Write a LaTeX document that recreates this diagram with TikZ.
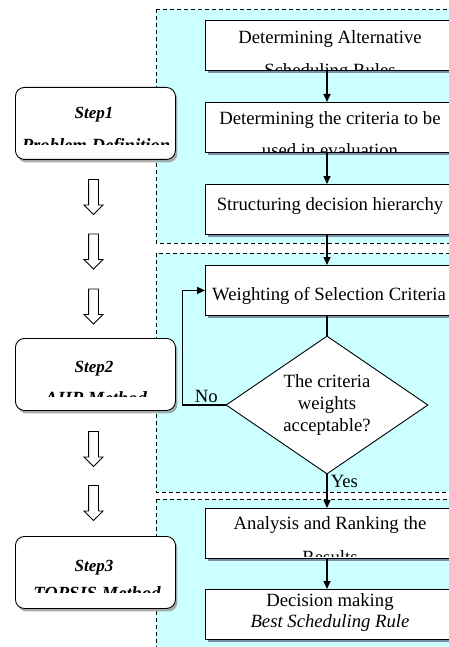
\documentclass[tikz,border=0pt]{standalone}
\usepackage{fontspec}
\setmainfont{Liberation Serif}
\usetikzlibrary{shapes.geometric,shapes.arrows,shadows,arrows.meta}
\definecolor{panelcyan}{RGB}{204,255,255}
\definecolor{shadowblue}{RGB}{112,132,158}
\definecolor{shadowgray}{RGB}{150,150,150}

\tikzset{
  panel/.style={draw, dash pattern=on 4pt off 3pt, line width=0.8pt, fill=panelcyan},
  procbox/.style={draw, fill=white, anchor=north west, minimum width=250pt, minimum height=50pt,
    line width=0.9pt, drop shadow={shadow xshift=3pt, shadow yshift=-3pt, fill=shadowblue, opacity=0.9}},
  stepbox/.style={draw, fill=white, rounded corners=9pt, anchor=north west, minimum width=160pt,
    minimum height=72pt, line width=0.9pt, drop shadow={shadow xshift=2pt, shadow yshift=-3pt, fill=shadowgray, opacity=0.8}},
  decision/.style={diamond, draw, fill=white, aspect=1.46, minimum width=202pt, minimum height=138pt,
    inner sep=0pt, align=center, line width=0.9pt, font=\fontsize{18.7}{22}\selectfont},
  downarrow/.style={single arrow, draw, fill=white, shape border rotate=270, minimum height=35pt,
    inner sep=4.5pt, single arrow head extend=4.5pt, line width=0.8pt},
  flow/.style={-{Triangle[length=8pt,width=7pt]}, line width=1.5pt},
  txt/.style={font=\fontsize{18.7}{22}\selectfont, anchor=base, inner sep=0pt},
  steptxt/.style={font=\fontsize{17}{20}\selectfont\bfseries\itshape, anchor=base, inner sep=0pt},
  stepsub/.style={font=\fontsize{18.6}{20}\selectfont\bfseries\itshape, anchor=base, inner sep=0pt},
}

\begin{document}
\begin{tikzpicture}[x=1pt, y=-1pt]
\useasboundingbox (0,0) rectangle (449,647);
\clip (0,0) rectangle (449,647);

% Dashed panels
\path[panel] (156,9) rectangle (470,243);
\path[panel] (156,253) rectangle (470,492);
\path[panel] (156,499) rectangle (470,670);

% Step boxes on the left
\node[stepbox] (step1) at (15,87) {};
\begin{scope}
\clip (15,87) rectangle (175,145);
\node[steptxt] at (94,119) {Step1};
\node[stepsub] at (96,152) {Problem Definition};
\end{scope}

\node[stepbox] (step2) at (15,338) {};
\begin{scope}
\clip (15,338) rectangle (175,396);
\node[steptxt] at (94,372) {Step2};
\node[stepsub] at (96,404) {AHP Method};
\end{scope}

\node[stepbox] (step3) at (15,536) {};
\begin{scope}
\clip (15,536) rectangle (175,592);
\node[steptxt] at (94,571) {Step3};
\node[stepsub] at (97,599) {TOPSIS Method};
\end{scope}

% Hollow arrows between steps
\foreach \yy/\nm in {194.5/a, 249/b, 304/c, 446.5/d, 500.5/e}
  \node[downarrow] (down\nm) at (93.5,\yy) {};

% Step 1 boxes
\node[procbox] (alt) at (205,20) {};
\begin{scope}
\clip (205,20) rectangle (460,69.5);
\node[txt] at (330,44) {Determining Alternative};
\node[txt] at (330,77) {Scheduling Rules};
\end{scope}

\node[procbox] (crit) at (205,102) {};
\begin{scope}
\clip (205,102) rectangle (460,151.5);
\node[txt] at (330,125) {Determining the criteria to be};
\node[txt] at (330,157) {used in evaluation};
\end{scope}

\node[procbox] (hier) at (205,184) {};
\node[txt] at (330,210) {Structuring decision hierarchy};

% Step 2 boxes
\node[procbox] (weigh) at (205,265) {};
\node[txt] at (329,300) {Weighting of Selection Criteria};

\node[decision] (dec) at (327,405) {The criteria\\weights\\acceptable?};

% Step 3 boxes
\node[procbox] (rank) at (205,508) {};
\begin{scope}
\clip (205,508) rectangle (460,556.5);
\node[txt] at (330,529) {Analysis and Ranking the};
\node[txt] at (330,563) {Results};
\end{scope}

\node[procbox] (best) at (205,589) {};
\node[txt] at (330,606) {Decision making};
\node[txt] at (330,627) {\itshape Best Scheduling Rule};

% Connectors
\draw[flow] (alt.south -| dec.center) -- (crit.north -| dec.center);
\draw[flow] (crit.south -| dec.center) -- (hier.north -| dec.center);
\draw[flow] (hier.south -| dec.center) -- (weigh.north -| dec.center);
\draw[line width=1.5pt] (weigh.south -| dec.center) -- (dec.north);
\draw[flow] (dec.west) -- node[above, pos=0.45, inner sep=2pt, font=\fontsize{18.7}{22}\selectfont] {No} ++(-43,0) |- (weigh.west);
\draw[flow] (dec.south) -- node[right, pos=0.2, inner sep=3pt, font=\fontsize{18.7}{22}\selectfont] {Yes} (rank.north -| dec.center);
\draw[flow] (rank.south -| dec.center) -- (best.north -| dec.center);
\end{tikzpicture}
\end{document}
